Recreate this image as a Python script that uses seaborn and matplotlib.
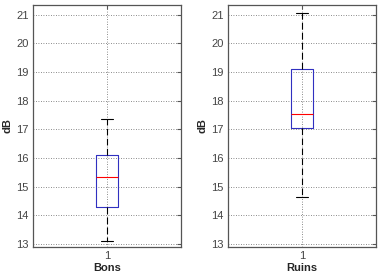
import matplotlib
matplotlib.use("Agg")
import matplotlib.pyplot as plt
import seaborn as sns
import pandas as pd
import numpy as np

# five-number summaries (min, Q1, median, Q3, max)
bons = [13.1, 14.3, 15.35, 16.1, 17.35]
ruins = [14.65, 17.05, 17.55, 19.1, 21.05]
groups = ["Bons", "Ruins"]
yticks = [13, 14, 15, 16, 17, 18, 19, 20, 21]

sns.set_style("white")
plt.rcParams['font.family'] = ['Liberation Sans', 'DejaVu Sans']

fig = plt.figure(figsize=(3.79, 2.73), dpi=100)
positions = [[33/379, 26/273, 148/379, 242/273], [228/379, 26/273, 148/379, 242/273]]

for vals, name, pos in zip([bons, ruins], groups, positions):
    ax = fig.add_axes(pos)
    df = pd.DataFrame({"g": ["1"] * len(vals), "v": vals})
    sns.boxplot(data=df, x="g", y="v", ax=ax, whis=np.inf, width=0.15,
                fill=False, linecolor="blue", linewidth=0.8,
                boxprops=dict(color="#3030c0", linewidth=0.8),
                medianprops=dict(color="red", linewidth=0.8),
                whiskerprops=dict(color="black", linestyle=(0, (6, 3)), linewidth=0.8),
                capprops=dict(color="black", linewidth=0.8))
    ax.set_ylim(12.9, 21.34)
    ax.set_xlim(-0.5, 0.5)
    ax.set_yticks(yticks)
    ax.set_yticklabels([str(t) for t in yticks])
    ax.grid(True, linestyle=(0, (1, 2)), color="#666666", linewidth=0.6)
    ax.set_axisbelow(True)
    ax.tick_params(axis="both", direction="in", length=3, labelsize=8,
                   colors="#555555", labelcolor="#444444", right=True, top=True, pad=3)
    for s in ax.spines.values():
        s.set_color("#555555")
        s.set_linewidth(0.9)
        s.set_visible(True)
    ax.set_ylabel("dB", fontsize=8, fontweight="bold", labelpad=3)
    ax.set_xlabel(name, fontsize=8, fontweight="bold", labelpad=1)

fig.savefig("out.png", dpi=100)
